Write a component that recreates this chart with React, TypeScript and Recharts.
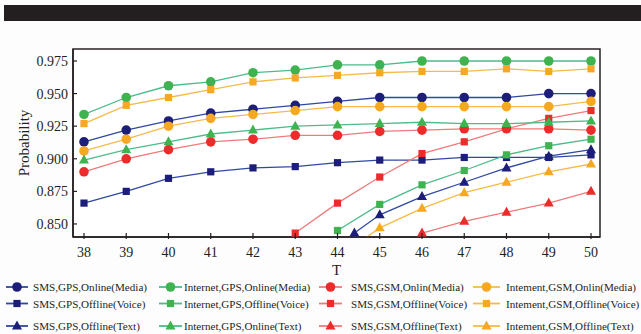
// App.tsx - probability vs T for the 12 message/channel combinations
import React from 'react'
import { LineChart, Line, XAxis, YAxis, ReferenceArea } from 'recharts'

const T = [38, 39, 40, 41, 42, 43, 44, 45, 46, 47, 48, 49, 50]
const T_SMS_GPS_TEXT = [44.4, 45, 46, 47, 48, 49, 50]
const T_INT_GSM_TEXT = [44, 45, 46, 47, 48, 49, 50]
const T_TICKS = [38, 39, 40, 41, 42, 43, 44, 45, 46, 47, 48, 49, 50]
const P_TICKS = [0.85, 0.875, 0.9, 0.925, 0.95, 0.975]

const X_MIN = 37.74
const X_MAX = 50.213
const Y_MIN = 0.84
const Y_MAX = 0.9842

// row 1: Online(Media)
const smsGpsOnlineMedia = [0.913, 0.922, 0.929, 0.935, 0.938, 0.941, 0.944, 0.947, 0.947, 0.947, 0.947, 0.950, 0.950]
const internetGpsOnlineMedia = [0.934, 0.947, 0.956, 0.959, 0.966, 0.968, 0.972, 0.972, 0.975, 0.975, 0.975, 0.975, 0.975]
const smsGsmOnlineMedia = [0.890, 0.900, 0.907, 0.913, 0.915, 0.918, 0.918, 0.921, 0.922, 0.923, 0.923, 0.923, 0.922]
const intementGsmOnlineMedia = [0.906, 0.915, 0.925, 0.931, 0.934, 0.937, 0.940, 0.940, 0.940, 0.940, 0.940, 0.940, 0.944]
// row 2: Offline(Voice)
const smsGpsOfflineVoice = [0.866, 0.875, 0.885, 0.890, 0.893, 0.894, 0.897, 0.899, 0.899, 0.901, 0.901, 0.901, 0.903]
const internetGpsOfflineVoice = [null, null, null, null, null, null, 0.845, 0.865, 0.880, 0.891, 0.903, 0.910, 0.915]
const smsGsmOfflineVoice = [null, null, null, null, null, 0.843, 0.866, 0.886, 0.904, 0.913, 0.923, 0.931, 0.937]
const intementGsmOfflineVoice = [0.927, 0.941, 0.947, 0.953, 0.959, 0.962, 0.964, 0.966, 0.967, 0.967, 0.969, 0.967, 0.969]
// row 3: Text
const smsGpsOfflineText = [0.843, 0.857, 0.871, 0.882, 0.893, 0.902, 0.907]
const internetGpsOnlineText = [0.899, 0.907, 0.913, 0.919, 0.922, 0.925, 0.926, 0.927, 0.928, 0.927, 0.927, 0.928, 0.929]
const smsGsmOfflineText = [null, null, null, null, null, null, null, null, 0.843, 0.852, 0.859, 0.866, 0.875]
const intementGsmOfflineText = [0.824, 0.847, 0.862, 0.874, 0.882, 0.890, 0.896]

const NAVY = { dot: '#1d1d7a', line: '#2e49a0' }
const GREEN = { dot: '#3fb34f', line: '#4dbb8a' }
const RED = { dot: '#ee2b2b', line: '#f07a7a' }
const ORANGE = { dot: '#f7a823', line: '#f5bb4a' }

type Shape = 'circle' | 'square' | 'triangle'

const series = [
  { name: 'SMS,GPS,Online(Media)', t: T, v: smsGpsOnlineMedia, c: NAVY, shape: 'circle' as Shape },
  { name: 'Internet,GPS,Online(Media)', t: T, v: internetGpsOnlineMedia, c: GREEN, shape: 'circle' as Shape },
  { name: 'SMS,GSM,Onlin(Media)', t: T, v: smsGsmOnlineMedia, c: RED, shape: 'circle' as Shape },
  { name: 'Intement,GSM,Onlin(Media)', t: T, v: intementGsmOnlineMedia, c: ORANGE, shape: 'circle' as Shape },
  { name: 'SMS,GPS,Offline(Voice)', t: T, v: smsGpsOfflineVoice, c: NAVY, shape: 'square' as Shape },
  { name: 'Internet,GPS,Offline(Voice)', t: T, v: internetGpsOfflineVoice, c: GREEN, shape: 'square' as Shape },
  { name: 'SMS,GSM,Offline(Voice)', t: T, v: smsGsmOfflineVoice, c: RED, shape: 'square' as Shape },
  { name: 'Intement,GSM,Offline(Voice)', t: T, v: intementGsmOfflineVoice, c: ORANGE, shape: 'square' as Shape },
  { name: 'SMS,GPS,Offline(Text)', t: T_SMS_GPS_TEXT, v: smsGpsOfflineText, c: NAVY, shape: 'triangle' as Shape },
  { name: 'Internet,GPS,Online(Text)', t: T, v: internetGpsOnlineText, c: GREEN, shape: 'triangle' as Shape },
  { name: 'SMS,GSM,Offline(Text)', t: T, v: smsGsmOfflineText, c: RED, shape: 'triangle' as Shape },
  { name: 'Intement,GSM,Offline(Text)', t: T_INT_GSM_TEXT, v: intementGsmOfflineText, c: ORANGE, shape: 'triangle' as Shape },
]

const FONT = '"Liberation Serif", "Times New Roman", serif'
const INK = '#231f20'

const toPoints = (ts: number[], vals: (number | null)[]) =>
  ts.map((t, i) => ({ t, p: vals[i] })).filter(d => d.p != null)

const Marker = ({ shape, x, y, fill }: { shape: Shape; x: number; y: number; fill: string }) => {
  if (shape === 'circle') return <circle cx={x} cy={y} r={4.8} fill={fill} />
  if (shape === 'square') return <rect x={x - 3.6} y={y - 3.6} width={7.2} height={7.2} fill={fill} />
  return <polygon points={`${x},${y - 5.5} ${x + 5},${y + 3.5} ${x - 5},${y + 3.5}`} fill={fill} />
}

const makeDot = (shape: Shape, fill: string, name: string) => (props: any) => {
  const { cx, cy, index } = props
  if (cx == null || cy == null) return <g key={`${name}-${index}`} />
  return <g key={`${name}-${index}`}><Marker shape={shape} x={cx} y={cy} fill={fill} /></g>
}

const XTick = ({ x, y, payload }: any) => (
  <g>
    <line x1={x} x2={x} y1={y - 4} y2={y + 2} stroke={INK} strokeWidth={1.2} />
    <text x={x} y={y + 20} textAnchor="middle" fill={INK} fontSize={14} fontFamily={FONT}>
      {payload.value}
    </text>
  </g>
)

const YTick = ({ x, y, payload }: any) => (
  <g>
    <line x1={x} x2={x + 4} y1={y} y2={y} stroke={INK} strokeWidth={1.2} />
    <text x={x - 5} y={y + 5} textAnchor="end" fill={INK} fontSize={14} fontFamily={FONT}>
      {Number(payload.value).toFixed(3)}
    </text>
  </g>
)

// legend columns: line start, line end, text start
const LEGEND_COLS = [
  { x1: 6, x2: 28, tx: 33 },
  { x1: 159, x2: 182, tx: 184 },
  { x1: 319, x2: 342, tx: 351 },
  { x1: 473, x2: 500, tx: 506 },
]
const LEGEND_ROWS = [11, 27.5, 50]

const LegendGrid = () => (
  <svg width={641} height={58} style={{ position: 'absolute', left: 0, top: 276 }}>
    {series.map((s, i) => {
      const col = LEGEND_COLS[i % 4]
      const cy = LEGEND_ROWS[Math.floor(i / 4)]
      const mx = (col.x1 + col.x2) / 2
      return (
        <g key={s.name}>
          <line x1={col.x1} x2={col.x2} y1={cy} y2={cy} stroke={s.c.line} strokeWidth={1.8} />
          <Marker shape={s.shape} x={mx} y={cy} fill={s.c.dot} />
          <text x={col.tx} y={cy + 4} fill={INK} fontSize={11.1} fontFamily={FONT}>
            {s.name}
          </text>
        </g>
      )
    })}
  </svg>
)

export default function App() {
  return (
    <div style={{ position: 'absolute', left: 0, top: 0, width: 641, height: 334, background: '#fdfdfe', overflow: 'hidden' }}>
      <div style={{ position: 'absolute', left: 4, top: 5, width: 637, height: 16, background: INK }} />
      <LineChart width={641} height={334} margin={{ top: 49, right: 41, bottom: 67, left: 0 }}>
        <ReferenceArea
          x1={X_MIN}
          x2={X_MAX}
          y1={Y_MIN}
          y2={Y_MAX}
          fill="#ffffff"
          fillOpacity={1}
          stroke="#2a2222"
          strokeWidth={1.5}
        />
        <XAxis
          dataKey="t"
          type="number"
          domain={[X_MIN, X_MAX]}
          ticks={T_TICKS}
          allowDataOverflow
          height={30}
          tickSize={0}
          tickMargin={0}
          tickLine={false}
          tick={<XTick />}
          axisLine={{ stroke: INK, strokeWidth: 1.5 }}
          label={{ value: 'T', position: 'bottom', offset: -3, style: { fill: INK, fontSize: 15, fontFamily: FONT } }}
        />
        <YAxis
          type="number"
          domain={[Y_MIN, Y_MAX]}
          ticks={P_TICKS}
          allowDataOverflow
          width={73}
          tickSize={0}
          tickMargin={0}
          tickLine={false}
          tick={<YTick />}
          axisLine={{ stroke: INK, strokeWidth: 1.5 }}
          label={{
            value: 'Probability',
            angle: -90,
            position: 'insideLeft',
            offset: 24,
            style: { textAnchor: 'middle', fill: INK, fontSize: 15, fontFamily: FONT },
          }}
        />
        {series.map(s => (
          <Line
            key={s.name}
            name={s.name}
            data={toPoints(s.t, s.v)}
            dataKey="p"
            type="linear"
            stroke={s.c.line}
            strokeWidth={1.3}
            dot={makeDot(s.shape, s.c.dot, s.name)}
            activeDot={false}
            isAnimationActive={false}
          />
        ))}
      </LineChart>
      <LegendGrid />
    </div>
  )
}
